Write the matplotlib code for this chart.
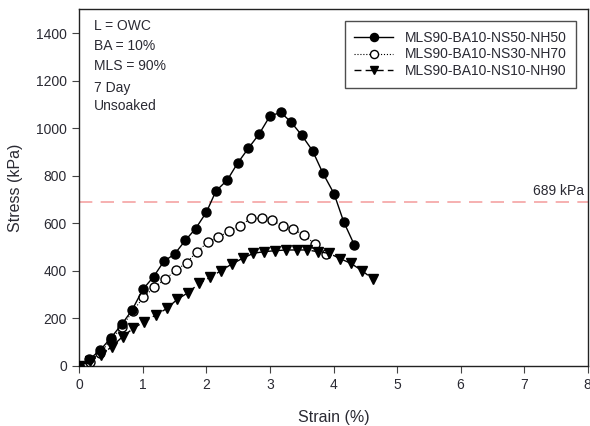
import matplotlib
matplotlib.use("Agg")
import matplotlib.pyplot as plt

plt.rcParams['font.family'] = ['Liberation Sans', 'DejaVu Sans']

# MLS90-BA10-NS50-NH50 (filled circles, solid line)
strain_ns50 = [0.00, 0.16, 0.33, 0.50, 0.67, 0.83, 1.00, 1.17, 1.33, 1.50, 1.67, 1.83,
               2.00, 2.15, 2.33, 2.49, 2.66, 2.83, 3.00, 3.17, 3.33, 3.50, 3.67, 3.83,
               4.01, 4.16, 4.33]
stress_ns50 = [0, 27, 66, 118, 175, 234, 321, 375, 439, 470, 528, 577,
               646, 735, 782, 852, 915, 975, 1051, 1066, 1026, 970, 905, 812,
               723, 606, 507]

# MLS90-BA10-NS30-NH70 (open circles, dotted line)
strain_ns30 = [0.00, 0.17, 0.33, 0.50, 0.67, 0.84, 1.01, 1.18, 1.35, 1.52, 1.69, 1.85,
               2.03, 2.19, 2.36, 2.53, 2.70, 2.87, 3.03, 3.20, 3.37, 3.54, 3.71, 3.88]
stress_ns30 = [0, 15, 55, 108, 164, 229, 288, 330, 364, 401, 434, 480,
               521, 542, 566, 589, 620, 620, 612, 588, 574, 549, 512, 472]

# MLS90-BA10-NS10-NH90 (filled triangles, dashed line)
strain_ns10 = [0.00, 0.17, 0.34, 0.51, 0.68, 0.85, 1.02, 1.20, 1.38, 1.54, 1.71, 1.89,
               2.06, 2.23, 2.40, 2.57, 2.74, 2.91, 3.08, 3.25, 3.42, 3.59, 3.75, 3.93,
               4.11, 4.27, 4.45, 4.62]
stress_ns10 = [0, 18, 44, 80, 122, 157, 185, 213, 241, 279, 307, 347,
               372, 400, 428, 452, 473, 480, 484, 487, 487, 487, 480, 473,
               450, 431, 400, 364]

labels = ["MLS90-BA10-NS50-NH50", "MLS90-BA10-NS30-NH70", "MLS90-BA10-NS10-NH90"]
ref_stress = 689
notes = ["L = OWC", "BA = 10%", "MLS = 90%", "7 Day", "Unsoaked"]
note_y = [1430, 1345, 1260, 1170, 1094]

x_ticks = list(range(0, 9))
y_ticks = list(range(0, 1401, 200))

text_c = '#2a2a33'

fig = plt.figure(figsize=(5.9, 4.26), dpi=100)
ax = fig.add_axes([79.3 / 590, 1 - 365.7 / 426, (587.7 - 79.3) / 590, (365.7 - 9.3) / 426])

ax.plot(strain_ns50, stress_ns50, '-', color='black', lw=1.0, marker='o', ms=6.5,
        mfc='black', mec='black', label=labels[0], zorder=4)
ax.plot(strain_ns30, stress_ns30, ':', color='black', lw=0.8, marker='o', ms=6.5,
        mfc='white', mec='black', mew=1.0, label=labels[1], zorder=3)
ax.plot(strain_ns10, stress_ns10, '--', color='black', lw=1.0, marker='v', ms=6.5,
        mfc='black', mec='black', label=labels[2], zorder=3, dashes=(5, 3))

ax.axhline(ref_stress, color='#f5a3a3', lw=1.2, dashes=(8, 5), zorder=1)
ax.text(7.94, ref_stress + 18, f"{ref_stress} kPa", ha='right', va='bottom',
        fontsize=10, color=text_c)

for s, y in zip(notes, note_y):
    ax.text(0.23, y, s, ha='left', va='center', fontsize=10, color=text_c)

ax.set_xlim(0, 8)
ax.set_ylim(0, 1500)
ax.set_xticks(x_ticks)
ax.set_yticks(y_ticks)
ax.tick_params(direction='out', length=5, width=0.8, labelsize=10,
               labelcolor=text_c, color='#444444', pad=4)
for sp in ax.spines.values():
    sp.set_linewidth(1.0)
    sp.set_color('#222222')

ax.set_xlabel("Strain (%)", fontsize=11.5, color=text_c, labelpad=13)
ax.set_ylabel("Stress (kPa)", fontsize=11.5, color=text_c, labelpad=9)

leg = ax.legend(loc='upper right', bbox_to_anchor=((576 - 79.3) / 508.4, 1 - (21 - 9.3) / 356.4),
                fontsize=10, frameon=True, fancybox=False, edgecolor='#222222',
                borderpad=0.7, handlelength=2.8, handletextpad=0.8, labelspacing=0.2,
                borderaxespad=0, markerscale=0.9)
leg.get_frame().set_linewidth(1.0)
for t in leg.get_texts():
    t.set_color(text_c)

fig.savefig("out.png", dpi=100)
